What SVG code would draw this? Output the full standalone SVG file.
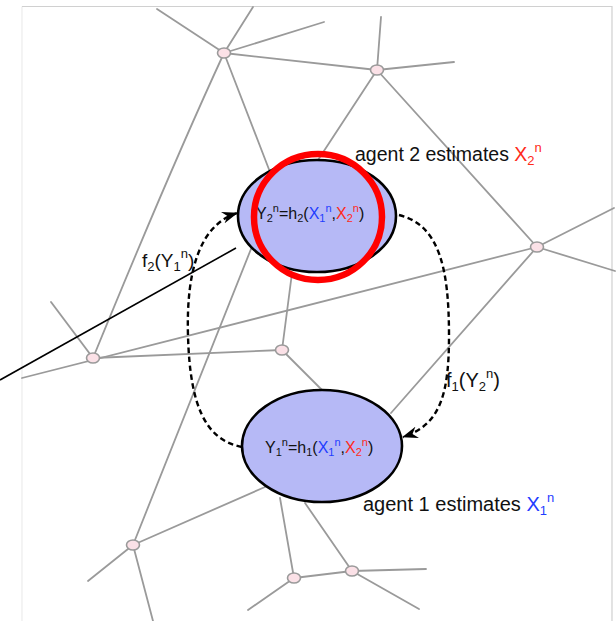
<svg xmlns="http://www.w3.org/2000/svg" width="616" height="621" viewBox="0 0 616 621">
<style>
.e{stroke:#9a9a9a;stroke-width:1.8;fill:none;stroke-linecap:round}
.n{fill:#fbe1e7;stroke:#9a9a9a;stroke-width:1.6}
.agent{fill:#b6b9f6;stroke:#000;stroke-width:2.6}
.t{font-family:"Liberation Sans",Arial,sans-serif;fill:#111}
.b{fill:#1f3dff}
.r{fill:#ff2a1a}
.d{fill:none;stroke:#000;stroke-width:2.4;stroke-dasharray:5.5 3.5}
</style>
<defs>
<marker id="ah" markerWidth="16" markerHeight="12" refX="15" refY="6" orient="auto" markerUnits="userSpaceOnUse">
<path d="M0,0 L16,6 L0,12 L5,6 Z" fill="#000"/>
</marker>
</defs>
<rect x="0" y="0" width="616" height="621" fill="#fff"/>
<path d="M22,621 L22,6.5" stroke="#ececec" stroke-width="1.2" fill="none"/>
<path d="M22,6.5 L612,6.5 L612,621" stroke="#d0d0d0" stroke-width="1.2" fill="none"/>

<g id="network">
<path class="e" d="M224,53 L157,9"/>
<path class="e" d="M224,53 L253,7"/>
<path class="e" d="M224,53 L324,22"/>
<path class="e" d="M224,53 L377,70"/>
<path class="e" d="M224,53 L270,172"/>
<path class="e" d="M224,53 Q170,170 93,358"/>
<path class="e" d="M377,70 L381,17"/>
<path class="e" d="M377,70 L454,62"/>
<path class="e" d="M377,70 L318,160"/>
<path class="e" d="M377,70 L537,247"/>
<path class="e" d="M537,247 L614,208"/>
<path class="e" d="M537,247 L615,271"/>
<path class="e" d="M537,247 L391,413"/>
<path class="e" d="M537,247 L22,378"/>
<path class="e" d="M93,358 L51,302"/>
<path class="e" d="M93,358 L282,350"/>
<path class="e" d="M282,350 L292,273"/>
<path class="e" d="M282,350 L322,390"/>
<path class="e" d="M251,249 L133,545"/>
<path class="e" d="M133,545 L88,581"/>
<path class="e" d="M133,545 L153,621"/>
<path class="e" d="M133,545 L265,487"/>
<path class="e" d="M294,578 L280,498"/>
<path class="e" d="M294,578 L352,571"/>
<path class="e" d="M294,578 L248,610"/>
<path class="e" d="M352,571 L305,503"/>
<path class="e" d="M352,571 L426,569"/>
<path class="e" d="M352,571 L419,609"/>
</g>

<g id="net-nodes">
<ellipse class="n" cx="224" cy="53" rx="6.5" ry="5"/>
<ellipse class="n" cx="377" cy="70" rx="6.5" ry="5"/>
<ellipse class="n" cx="537" cy="247" rx="6.5" ry="5"/>
<ellipse class="n" cx="93" cy="358" rx="6.5" ry="5"/>
<ellipse class="n" cx="282" cy="350" rx="6.5" ry="5"/>
<ellipse class="n" cx="133" cy="545" rx="6.5" ry="5"/>
<ellipse class="n" cx="294" cy="578" rx="6.5" ry="5"/>
<ellipse class="n" cx="352" cy="571" rx="6.5" ry="5"/>
</g>

<g id="pointer">
<path d="M236,248 L0,380" stroke="#000" stroke-width="1.6" fill="none"/>
</g>

<g id="agent2">
<ellipse class="agent" cx="317" cy="216" rx="79" ry="56"/>
<text class="t" x="256" y="219" font-size="16">Y<tspan font-size="11" dy="3">2</tspan><tspan font-size="11" dy="-10">n</tspan><tspan dy="7">=h</tspan><tspan font-size="11" dy="3">2</tspan><tspan dy="-3">(</tspan><tspan class="b">X</tspan><tspan class="b" font-size="11" dy="3">1</tspan><tspan class="b" font-size="11" dy="-10">n</tspan><tspan dy="7">,</tspan><tspan class="r">X</tspan><tspan class="r" font-size="11" dy="3">2</tspan><tspan class="r" font-size="11" dy="-10">n</tspan><tspan dy="7">)</tspan></text>
<ellipse cx="318" cy="217" rx="64" ry="63" fill="none" stroke="#ff0000" stroke-width="6.5"/>
<text class="t" x="355" y="161" font-size="19.5">agent 2 estimates <tspan class="r">X</tspan><tspan class="r" font-size="13" dy="4">2</tspan><tspan class="r" font-size="13" dy="-13">n</tspan></text>
</g>

<g id="agent1">
<ellipse class="agent" cx="322" cy="446" rx="80" ry="56"/>
<text class="t" x="265" y="453" font-size="16">Y<tspan font-size="11" dy="3">1</tspan><tspan font-size="11" dy="-10">n</tspan><tspan dy="7">=h</tspan><tspan font-size="11" dy="3">1</tspan><tspan dy="-3">(</tspan><tspan class="b">X</tspan><tspan class="b" font-size="11" dy="3">1</tspan><tspan class="b" font-size="11" dy="-10">n</tspan><tspan dy="7">,</tspan><tspan class="r">X</tspan><tspan class="r" font-size="11" dy="3">2</tspan><tspan class="r" font-size="11" dy="-10">n</tspan><tspan dy="7">)</tspan></text>
<text class="t" x="363" y="511" font-size="20">agent 1 estimates <tspan class="b">X</tspan><tspan class="b" font-size="13" dy="4">1</tspan><tspan class="b" font-size="13" dy="-13">n</tspan></text>
</g>

<g id="connectors">
<path class="d" marker-end="url(#ah)" d="M242,447 C205,440 190,405 188,336 C186,270 200,225 237,213"/>
<path class="d" marker-end="url(#ah)" d="M399,215 C440,225 449,270 449,336 C449,395 440,425 403,437"/>
</g>

<g id="labels">
<text class="t" x="142" y="267" font-size="19">f<tspan font-size="13" dy="4">2</tspan><tspan dy="-4">(Y</tspan><tspan font-size="13" dy="4">1</tspan><tspan font-size="13" dy="-13">n</tspan><tspan dy="9">)</tspan></text>
<text class="t" x="446" y="387" font-size="20">f<tspan font-size="13" dy="4">1</tspan><tspan dy="-4">(Y</tspan><tspan font-size="13" dy="4">2</tspan><tspan font-size="13" dy="-13">n</tspan><tspan dy="9">)</tspan></text>
</g>
</svg>
